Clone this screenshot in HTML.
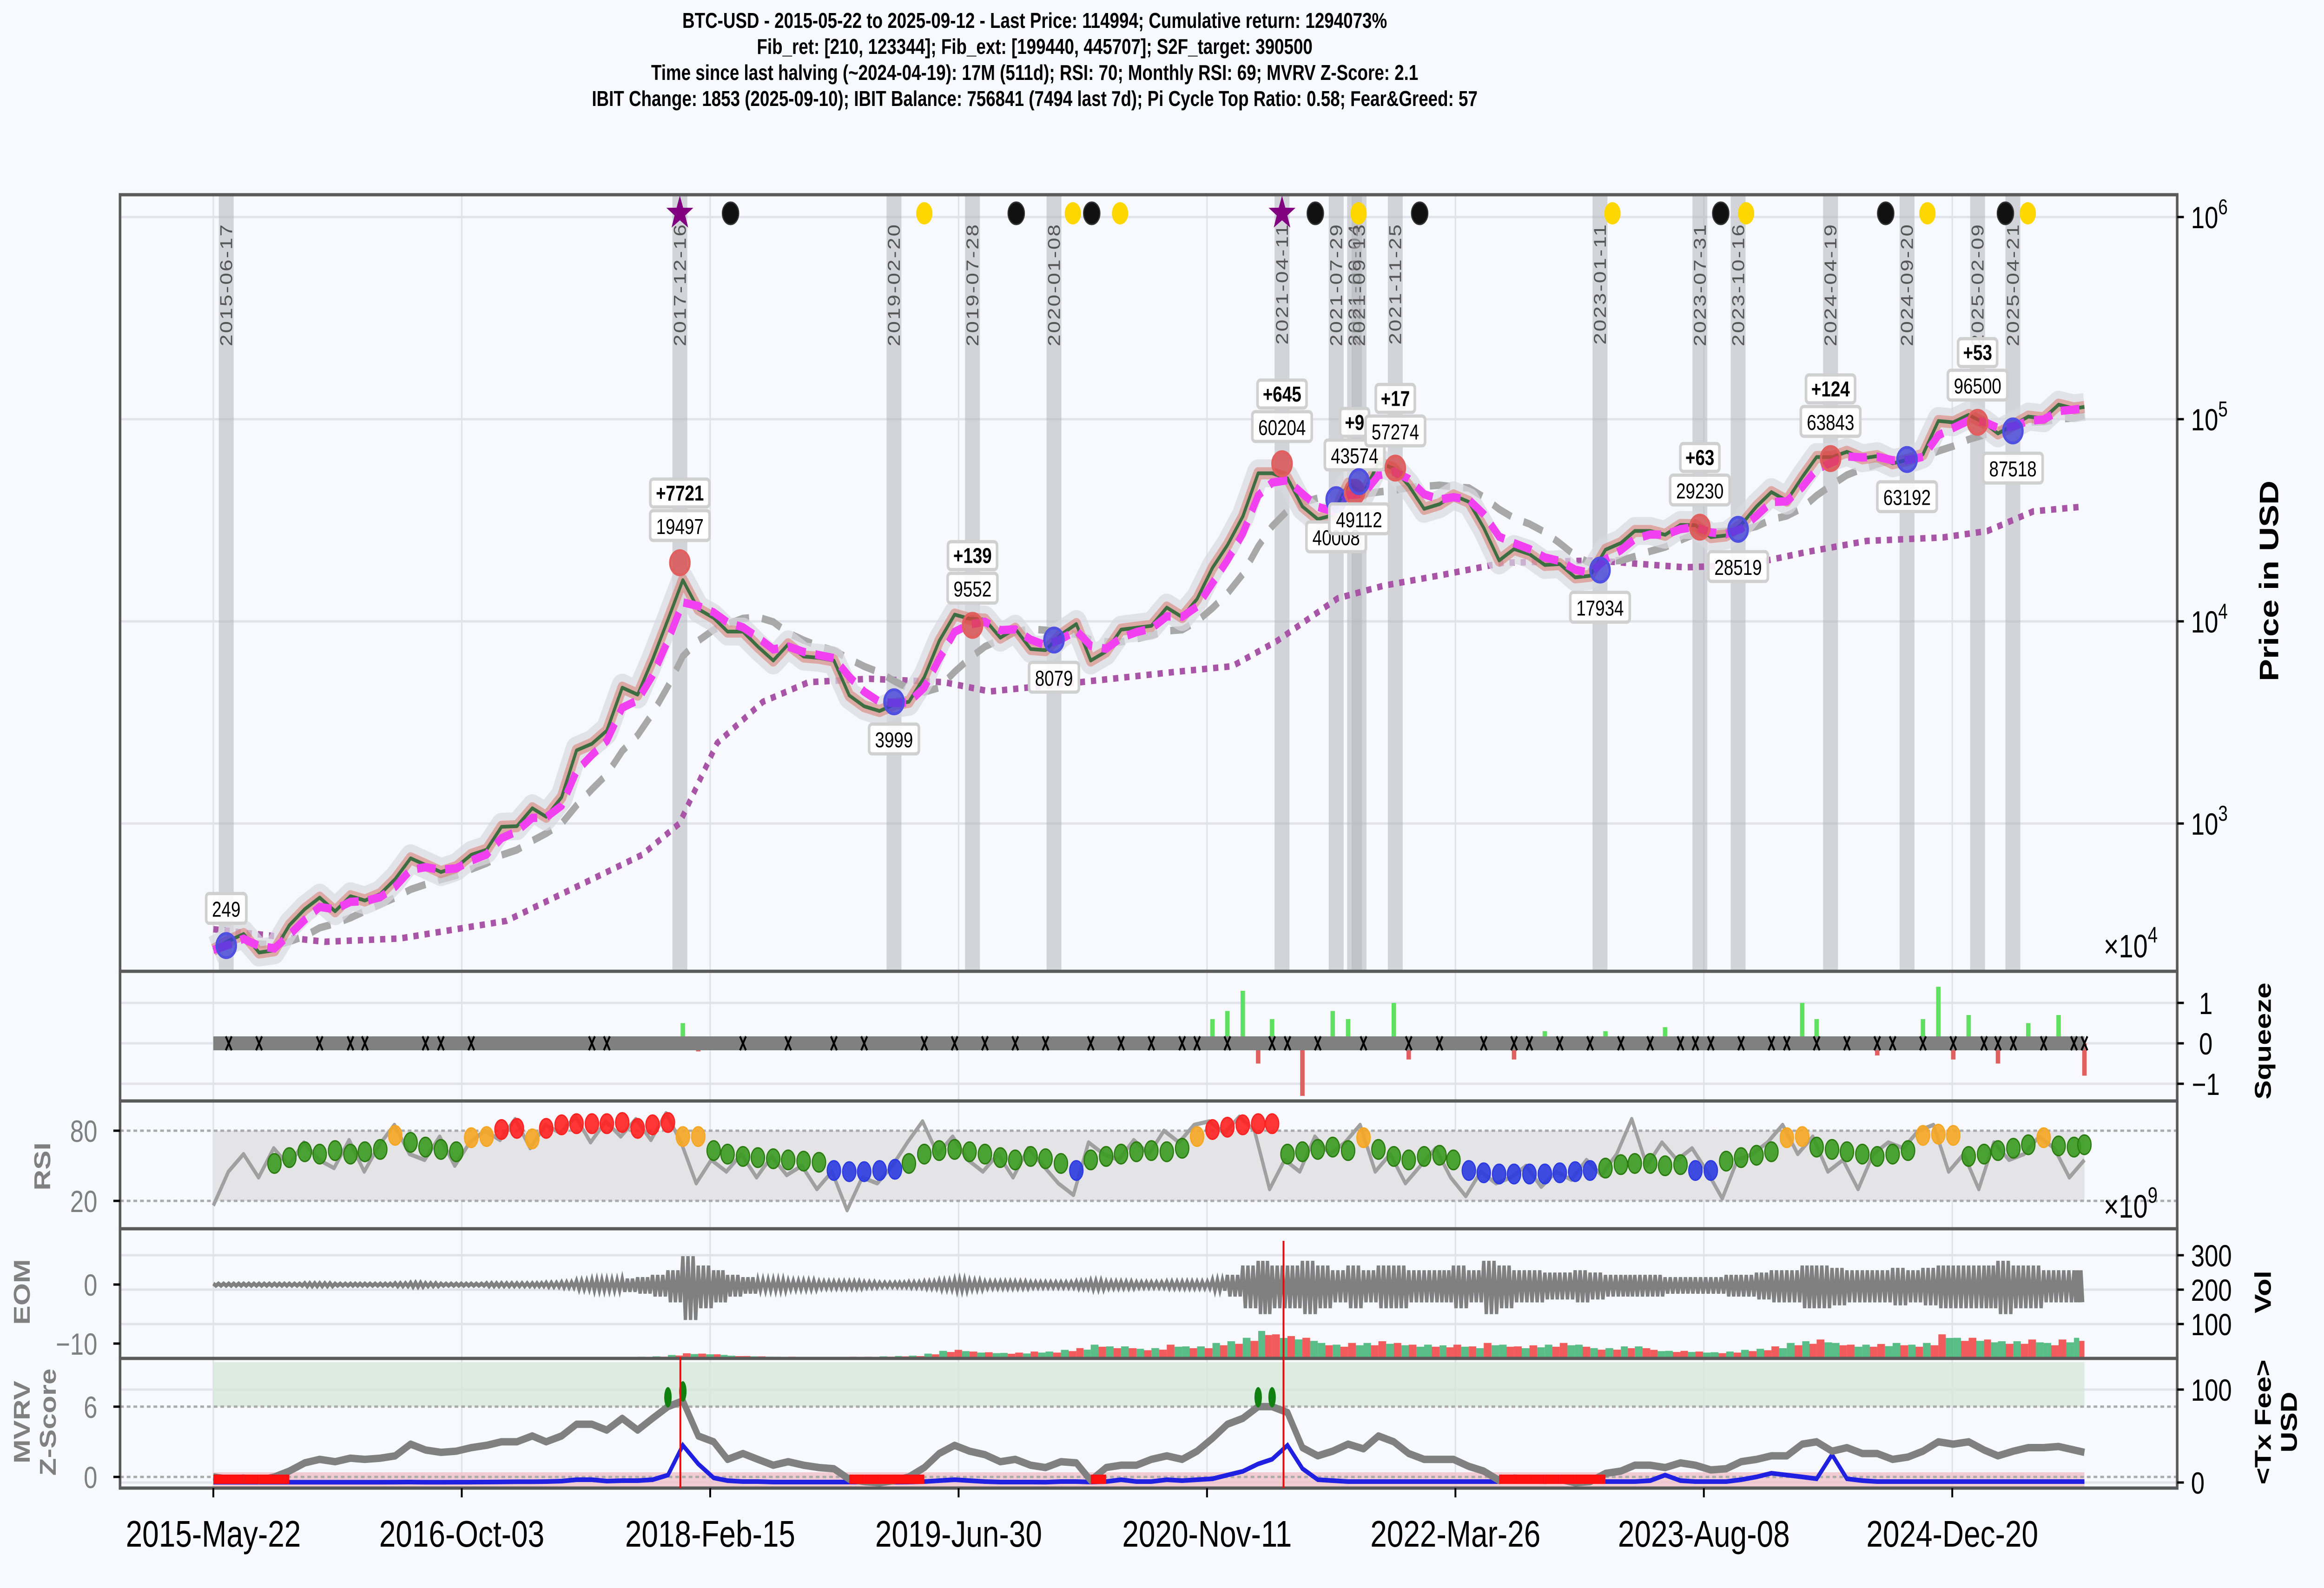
<!DOCTYPE html>
<html><head><meta charset="utf-8"><style>
html,body{margin:0;padding:0;background:#f8f9fe;overflow:hidden;width:100%;height:100%;}
svg{display:block;width:100vw;height:100vh;font-family:"Liberation Sans","DejaVu Sans",sans-serif;}
</style></head><body>
<svg id="chart" xmlns="http://www.w3.org/2000/svg" viewBox="0 0 6253 3417" preserveAspectRatio="none">
<rect x="0" y="0" width="6253" height="3417" fill="#f8f9fe"/>
<g font-weight="bold" font-size="46" text-anchor="middle" fill="#000">
<text x="2784" y="60">BTC-USD - 2015-05-22 to 2025-09-12 - Last Price: 114994; Cumulative return: 1294073%</text>
<text x="2784" y="116">Fib_ret: [210, 123344]; Fib_ext: [199440, 445707]; S2F_target: 390500</text>
<text x="2784" y="172">Time since last halving (~2024-04-19): 17M (511d); RSI: 70; Monthly RSI: 69; MVRV Z-Score: 2.1</text>
<text x="2784" y="228">IBIT Change: 1853 (2025-09-10); IBIT Balance: 756841 (7494 last 7d); Pi Cycle Top Ratio: 0.58; Fear&amp;Greed: 57</text>
</g>
<defs>
<clipPath id="cMain"><rect x="323" y="419" width="5535" height="1671"/></clipPath>
<clipPath id="cSq"><rect x="323" y="2090" width="5535" height="279"/></clipPath>
<clipPath id="cRsi"><rect x="323" y="2369" width="5535" height="275"/></clipPath>
<clipPath id="cEom"><rect x="323" y="2644" width="5535" height="279"/></clipPath>
<clipPath id="cMv"><rect x="323" y="2923" width="5535" height="279"/></clipPath>
</defs>
<g id="grid"></g>
<g id="main" clip-path="url(#cMain)"></g>
<g id="sq" clip-path="url(#cSq)"></g>
<g id="rsi" clip-path="url(#cRsi)"></g>
<g id="eom" clip-path="url(#cEom)"></g>
<g id="mv" clip-path="url(#cMv)"></g>
<g id="frames" fill="none" stroke="#5a5a5a" stroke-width="7">
<rect x="323" y="419" width="5535" height="1671"/>
<rect x="323" y="2090" width="5535" height="279"/>
<rect x="323" y="2369" width="5535" height="275"/>
<rect x="323" y="2644" width="5535" height="279"/>
<rect x="323" y="2923" width="5535" height="279"/>
</g>
<g id="axes"></g>
<g>
<text x="6130" y="1250" font-size="72" font-weight="bold" transform="rotate(-90 6130 1250)" text-anchor="middle">Price in USD</text>
<text x="5660" y="2060" font-size="70">×10<tspan font-size="48" dy="-32">4</tspan></text>
<text x="6110" y="2240" font-size="62" font-weight="bold" transform="rotate(-90 6110 2240)" text-anchor="middle">Squeeze</text>
<text x="135" y="2510" font-size="62" font-weight="bold" fill="#808080" transform="rotate(-90 135 2510)" text-anchor="middle">RSI</text>
<text x="5660" y="2620" font-size="70">×10<tspan font-size="48" dy="-32">9</tspan></text>
<text x="80" y="2780" font-size="62" font-weight="bold" fill="#808080" transform="rotate(-90 80 2780)" text-anchor="middle">EOM</text>
<text x="6110" y="2780" font-size="62" font-weight="bold" transform="rotate(-90 6110 2780)" text-anchor="middle">Vol</text>
<text x="80" y="3060" font-size="62" font-weight="bold" fill="#808080" transform="rotate(-90 80 3060)" text-anchor="middle">MVRV</text>
<text x="150" y="3060" font-size="62" font-weight="bold" fill="#808080" transform="rotate(-90 150 3060)" text-anchor="middle">Z-Score</text>
<text x="6110" y="3060" font-size="62" font-weight="bold" transform="rotate(-90 6110 3060)" text-anchor="middle">&lt;Tx Fee&gt;</text>
<text x="6180" y="3060" font-size="62" font-weight="bold" transform="rotate(-90 6180 3060)" text-anchor="middle">USD</text>
</g>
<script>
// ---------- DATA ----------
const priceMonthly = [237,263,284,230,236,314,377,430,
368,437,416,448,531,673,624,575,609,700,742,963,
970,1190,1080,1350,2300,2480,2880,4700,4340,6470,10200,16000,
11500,10400,8900,8900,7500,6400,7700,6700,6600,6400,4300,3800,
3600,3900,4000,5300,8000,10800,10300,10200,8300,9200,7300,7200,
8600,9700,6400,7100,9100,9300,9500,11700,10500,12900,18400,23800,
33000,54000,54000,51000,37000,32000,33500,48000,43000,61000,57000,47000,
36000,38000,42000,39000,29000,20000,22800,21500,19000,19200,16500,16800,
22600,24400,28000,28000,26800,30000,29900,26100,26600,30000,37000,43600,
39500,51700,65000,64900,69000,64000,65700,60500,63000,67000,98000,96500,
105000,96000,85000,93500,103000,101000,118000,113000,114994];
const lowerBandDates = ['2015-05-22','2016-01-01','2016-06-01','2017-01-01','2017-06-01','2017-10-01','2017-12-15','2018-03-01','2018-06-01','2018-09-01','2019-01-01','2019-06-01','2019-09-01','2020-03-01','2020-09-01','2021-01-01','2021-04-01','2021-08-01','2021-11-01','2022-03-01','2022-07-01','2023-01-01','2023-07-01','2023-11-01','2024-03-01','2024-07-01','2024-12-01','2025-03-01','2025-06-01','2025-09-12'];
const lowerBandValues = [300,260,270,330,500,700,1000,2500,4000,5000,5200,5000,4500,5000,5600,6000,8000,13000,15000,17000,19500,20000,18500,19000,22000,25000,26000,28000,35000,37000];
const bandDates = ['2015-06-17','2017-12-16','2019-02-20','2019-07-28','2020-01-08','2021-04-11','2021-07-29','2021-09-04','2021-09-13','2021-11-25','2023-01-11','2023-07-31','2023-10-16','2024-04-19','2024-09-20','2025-02-09','2025-04-21'];
const bandLabels = ['2015-06-17','2017-12-16','2019-02-20','2019-07-28','2020-01-08','2021-04-11','2021-07-29','2021-09-04','2021-09-13','2021-11-25','2023-01-11','2023-07-31','2023-10-16','2024-04-19','2024-09-20','2025-02-09','2025-04-21'];
const starDates = ['2017-12-16','2021-04-11'];
const blackDotDates = ['2018-03-28','2019-10-24','2020-03-24','2021-06-17','2022-01-13','2023-09-11','2024-08-08','2025-04-06'];
const yellowDotDates = ['2019-04-22','2020-02-15','2020-05-20','2021-09-12','2023-02-05','2023-11-01','2024-10-31','2025-05-21'];
const pivotDates = ['2015-06-17','2017-12-16','2019-02-20','2019-07-28','2020-01-08','2021-04-11','2021-07-29','2021-09-04','2021-09-13','2021-11-25','2023-01-11','2023-07-31','2023-10-16','2024-04-19','2024-09-20','2025-02-09','2025-04-21'];
const pivotValues = [249,19497,3999,9552,8079,60204,40008,43574,49112,57274,17934,29230,28519,63843,63192,96500,87518];
const pivotLabels = ['249','19497','3999','9552','8079','60204','40008','43574','49112','57274','17934','29230','28519','63843','63192','96500','87518'];
const pivotKinds = ['low','high','low','high','low','high','low','high','low','high','low','high','low','high','low','high','low'];
const pivotGains = ['','+7721','','+139','','+645','','+9','','+17','','+63','','+124','','+53',''];
const squeezeIdx = [31,32,66,67,68,69,70,72,74,75,78,79,86,88,92,96,105,106,110,113,114,115,116,118,120,122,124];
const squeezeVal = [0.5,-0.2,0.6,0.8,1.3,-0.5,0.6,-1.3,0.8,0.6,1.0,-0.4,-0.4,0.3,0.3,0.4,1.0,0.6,-0.3,0.6,1.4,-0.4,0.7,-0.5,0.5,0.7,-0.8];
const squeezeMarkIdx = [1,3,7,9,10,14,15,17,25,26,35,38,41,43,47,49,51,53,55,58,60,62,64,65,67,70,71,73,76,79,81,84,86,87,89,91,93,95,97,98,99,101,103,104,106,108,110,111,113,115,117,118,119,121,123,124];
const rsiMonthly = [null,null,null,null,52,57,62,60,
63,60,62,64,76,70,66,64,62,74,75,81,
82,73,82,85,86,86,86,87,82,85,87,75,
75,63,60,58,57,56,55,54,53,46,45,45,
46,47,52,60,63,64,62,60,57,55,58,56,
52,46,55,58,60,62,63,62,65,75,81,83,
85,86,86,60,62,64,66,63,74,64,58,55,
58,59,55,46,44,43,43,43,43,44,45,46,
48,51,52,52,50,51,46,46,54,57,59,62,
74,75,66,64,62,60,58,60,63,76,77,76,
58,60,63,65,68,74,67,66,68];
const rsiLine = [16,45,60,40,65,50,70,55,48,72,45,68,85,60,55,75,50,70,80,72,90,65,85,78,92,70,88,75,90,72,95,70,
35,55,45,60,40,58,42,50,30,45,12,40,35,50,70,88,60,75,55,45,60,40,65,50,35,25,70,60,55,72,60,80,
70,85,88,78,92,80,30,55,45,75,60,70,85,45,60,35,50,65,40,24,45,35,40,50,32,45,38,55,42,60,90,50,
70,55,65,45,22,55,60,70,85,60,75,45,55,30,60,70,65,80,85,45,60,30,70,55,60,75,65,40,55];
const volumeMonthly = [1,1,1,1,1,1,1,1, 1,1,1,1,1,1,1,1,1,1,1,1, 1,1,1,2,3,3,3,4,5,6,10,15, 14,12,8,7,6,5,5,4,4,4,5,5, 6,7,8,14,22,25,20,18,16,17,20,20,
25,30,40,35,35,28,30,40,35,35,45,50, 60,80,70,65,60,45,40,45,45,50,45,40, 40,38,40,35,45,40,35,38,40,45,40,30, 30,35,35,25,22,22,20,18,20,25,28,35,
45,50,55,45,40,40,42,45,40,45,70,60, 60,55,50,50,55,45,55,60,55];
const eomAmp = [0.2,0.2,0.2,0.2,0.2,0.2,0.3,0.3, 0.2,0.2,0.2,0.2,0.3,0.4,0.3,0.2,0.2,0.2,0.3,0.3, 0.3,0.3,0.4,0.5,0.8,1,1,1.2,1.5,2,3,6, 4,3,2,1.5,1,1,0.8,0.8,0.6,0.6,0.6,0.5,
0.4,0.4,0.5,0.6,0.8,1,0.8,0.6,0.6,0.6,0.5,0.5, 0.5,0.6,0.8,0.6,0.6,0.5,0.5,0.6,0.6,0.6,1,2, 4,5,4,4,5,4,3,4,3,4,4,3, 3,3,4,3,5,4,3,3,2.5,2.5,3,2.5,
2,2,2,2,1.5,1.5,1.5,1.5,2,2,2.5,3, 3,4,4,3.5,3,3,3,3.5,3,3.5,4,4, 4,4,5,4,4,3,3,3,3];
const mvrvMonthly = [0,-0.2,-0.1,-0.3,0,0.5,1.2,1.5,
1.3,1.6,1.5,1.6,1.8,2.8,2.3,2.1,2.2,2.5,2.7,3.0,
3.0,3.5,3.0,3.5,4.5,4.5,4.0,5.0,4.0,5.0,6.0,6.5,
3.5,3.0,1.5,2.0,1.5,1.0,1.3,1.0,0.8,0.7,-0.2,-0.4,
-0.5,-0.3,0,0.8,2.0,2.7,2.2,1.9,1.3,1.5,1.0,0.8,
1.3,1.2,-0.3,0.8,1.0,1.0,1.5,1.8,1.5,2.2,3.3,4.5,
5.0,6.0,6.0,5.5,2.5,1.8,2.2,2.8,2.4,3.5,3.0,2.0,
1.5,1.5,1.5,0.9,0.5,-0.3,-0.1,-0.2,-0.3,-0.2,-0.5,-0.4,
0.3,0.5,1.0,1.0,0.8,1.2,1.0,0.6,0.7,1.3,1.5,1.8,
1.8,2.8,3.0,2.2,2.5,2.0,2.0,1.5,1.7,2.2,3.0,2.8,
3.0,2.3,1.8,2.2,2.5,2.5,2.6,2.3,2.1];
const feeMonthly = [0.3,0.3,0.3,0.3,0.3,0.3,0.3,0.3, 0.3,0.3,0.3,0.3,0.4,0.5,0.3,0.3,0.4,0.4,0.5,0.6, 0.8,0.8,1,1.5,3,3,1.5,2,2,3,8,40, 20,5,2,1,1,0.5,0.5,0.5,0.5,0.5,0.5,0.4,
0.4,0.4,0.5,1,2,3,2,1,0.5,0.5,0.5,0.4, 1,1,0.5,1,3,1,1,3,2,3,4,8, 12,20,25,40,15,3,2,1,1,1,1,1, 1,1,1,1,1,1,1,1,1,1,1,1,
1,1,1,2,8,2,1,1,1,3,6,10, 8,6,4,30,4,2,1,1,1,1,1,1, 1,1,1,1,1,1,1,1,1];
const xTickLabels = ['2015-May-22','2016-Oct-03','2018-Feb-15','2019-Jun-30','2020-Nov-11','2022-Mar-26','2023-Aug-08','2024-Dec-20'];
const xTickDates = ['2015-05-22','2016-10-03','2018-02-15','2019-06-30','2020-11-11','2022-03-26','2023-08-08','2024-12-20'];
const priceTicks = [3,4,5,6];
const squeezeTicks = [1,0,-1];
const squeezeTickLabels = ['1','0','\u22121'];
const rsiTicks = [80,20];
const eomTicks = [0,-10];
const volTicks = [100,200,300];
const mvrvTicks = [6,0];
const feeTicks = [0,100];

// ---------- SCALES ----------
const NS='http://www.w3.org/2000/svg';
const D0=Date.UTC(2015,4,22);
function X(d){const t=(typeof d==='string')?Date.parse(d+'T00:00:00Z'):d;return 574+(t-D0)/864e5*1.3368;}
function monthT(i){return i>=124?Date.UTC(2025,8,12):Date.UTC(2015,4+i,22);}
function XM(i){return X(monthT(i));}
function YP(v){return 467+(6-Math.log10(v))*435;}
function YS(v){return 2245-v*87;}
function YR(v){return 2433+(80-v)*2.517;}
function YE(v){return 2764-v*12.7;}
function YV(v){return 2923-v*0.74;}
function YM(v){return 3178-v*25.2;}
function YF(v){return 3190-v*2.0;}
function el(parent,tag,attrs,txt){const e=document.createElementNS(NS,tag);for(const k in attrs)e.setAttribute(k,attrs[k]);if(txt!==undefined)e.textContent=txt;parent.appendChild(e);return e;}
const G=id=>document.getElementById(id);
const xL=574, xR=X('2025-09-12');

// ---------- GRID ----------
const grid=G('grid');
xTickDates.forEach(d=>{const l=el(grid,'line',{x1:X(d),x2:X(d),y1:419,y2:3202,stroke:'#e2e2ea','stroke-width':4});

});
priceTicks.forEach(p=>{const l=el(grid,'line',{x1:323,x2:5858,y1:YP(Math.pow(10,p)),y2:YP(Math.pow(10,p)),stroke:'#e2e2ea','stroke-width':5});

});
[[YS(1)],[YS(0)],[YS(-1)],[YV(100)],[YV(200)],[YV(300)],[YF(100)],[YF(0)]].forEach(a=>{const l=el(grid,'line',{x1:323,x2:5858,y1:a[0],y2:a[0],stroke:'#e2e2ea','stroke-width':5});

});

// ---------- MAIN PANEL ----------
const main=G('main');
bandDates.forEach((d,i)=>{const r=el(main,'rect',{x:X(d)-20,y:419,width:40,height:1671,fill:'#b4b4bc','fill-opacity':0.55});


const t=el(main,'text',{x:X(d)+16,y:480,'font-size':46,fill:'#555','text-anchor':'end','letter-spacing':'3',transform:`rotate(-90 ${X(d)+16} 480)`},bandLabels[i]);

});
let pts=lowerBandDates.map((d,i)=>X(d)+','+YP(lowerBandValues[i])).join(' ');
let pl=el(main,'polyline',{points:pts,fill:'none',stroke:'#a855a8','stroke-width':14,'stroke-dasharray':'14 16'});


const ma=priceMonthly.map((v,i)=>{let s=0,n=0;for(let j=Math.max(0,i-6);j<=i;j++){s+=priceMonthly[j];n++;}return s/n;});
pts=ma.map((v,i)=>XM(i)+','+YP(v)).join(' ');
pl=el(main,'polyline',{points:pts,fill:'none',stroke:'#a8a8a8','stroke-width':16,'stroke-dasharray':'55 35'});


pts=priceMonthly.map((v,i)=>XM(i)+','+YP(v)).join(' ');
pl=el(main,'polyline',{points:pts,fill:'none',stroke:'#d8d8e0','stroke-width':60,'stroke-linejoin':'round','stroke-opacity':0.7});


pl=el(main,'polyline',{points:pts,fill:'none',stroke:'#d77060','stroke-width':26,'stroke-linejoin':'round','stroke-opacity':0.5});


pl=el(main,'polyline',{points:pts,fill:'none',stroke:'#3c6e42','stroke-width':8,'stroke-linejoin':'round'});


const ema=[];priceMonthly.forEach((v,i)=>{ema.push(i===0?v:ema[i-1]*0.45+v*0.55);});
pts=ema.map((v,i)=>XM(i)+','+YP(v)).join(' ');
pl=el(main,'polyline',{points:pts,fill:'none',stroke:'#f040f0','stroke-width':18,'stroke-dasharray':'50 26'});


pivotDates.forEach((d,i)=>{const x=X(d),y=YP(pivotValues[i]);const hi=pivotKinds[i]==='high';
const c=el(main,'circle',{cx:x,cy:y,r:26,fill:hi?'#d94040':'#3a3ad8','fill-opacity':0.75,stroke:hi?'#e06060':'#5050e0','stroke-width':6});


const above=hi||i===0;const ly=above?y-78:y+82;
const w=pivotLabels[i].length*26+30;
const b=el(main,'rect',{x:x-w/2,y:ly-34,width:w,height:64,rx:8,fill:'#fff','fill-opacity':0.9,stroke:'#d0d0d0','stroke-width':7});


const t=el(main,'text',{x:x,y:ly+16,'font-size':46,'text-anchor':'middle',fill:'#000'},pivotLabels[i]);


if(pivotGains[i]){const gw=pivotGains[i].length*27+24;
const gb=el(main,'rect',{x:x-gw/2,y:ly-102,width:gw,height:60,rx:8,fill:'#fff','fill-opacity':0.9,stroke:'#d0d0d0','stroke-width':7});


const gt=el(main,'text',{x:x,y:ly-56,'font-size':46,'font-weight':'bold','text-anchor':'middle',fill:'#000'},pivotGains[i]);

}});
starDates.forEach(d=>{const x=X(d),y=459;let p=[];for(let k=0;k<10;k++){const r=k%2?15:38,a=-Math.PI/2+k*Math.PI/5;p.push((x+r*Math.cos(a))+','+(y+r*Math.sin(a)));}
const s=el(main,'polygon',{points:p.join(' '),fill:'#800080'});

});
blackDotDates.forEach(d=>{const c=el(main,'ellipse',{cx:X(d),cy:459,rx:22,ry:24,fill:'#111',stroke:'#333','stroke-width':3});

});
yellowDotDates.forEach(d=>{const c=el(main,'ellipse',{cx:X(d),cy:459,rx:22,ry:24,fill:'#ffd700'});

});

// ---------- SQUEEZE ----------
const sq=G('sq');
squeezeIdx.forEach((m,i)=>{const v=squeezeVal[i],x=XM(m);
const r=el(sq,'rect',{x:x-6,y:Math.min(YS(0),YS(v)),width:12,height:Math.abs(YS(v)-YS(0)),fill:v>0?'#60e060':'#e06060'});

});
let sl=el(sq,'line',{x1:xL,x2:xR,y1:YS(0),y2:YS(0),stroke:'#808080','stroke-width':30});


squeezeMarkIdx.forEach(m=>{const x=XM(m),y=YS(0);
const p=el(sq,'path',{d:`M${x-8} ${y-15}L${x+8} ${y+15}M${x+8} ${y-15}L${x-8} ${y+15}`,stroke:'#000','stroke-width':5});

});

// ---------- RSI ----------
const rsi=G('rsi');
let rr=el(rsi,'rect',{x:xL,y:YR(80),width:xR-xL,height:YR(20)-YR(80),fill:'#e4e4e6'});


[80,20].forEach(v=>{const l=el(rsi,'line',{x1:323,x2:5858,y1:YR(v),y2:YR(v),stroke:'#aaa','stroke-width':5,'stroke-dasharray':'10 8'});

});
pts=rsiLine.map((v,i)=>X(monthT(0)+i*(monthT(124)-monthT(0))/(rsiLine.length-1))+','+YR(v)).join(' ');
pl=el(rsi,'polyline',{points:pts,fill:'none',stroke:'#a0a0a0','stroke-width':9,'stroke-linejoin':'round'});


rsiMonthly.forEach((v,i)=>{if(v===null)return;const col=v>=80?'#ff2020':v>=72?'#f5a623':v>=48?'#3a9a20':'#2a3ae0';
const c=el(rsi,'ellipse',{cx:XM(i),cy:YR(v),rx:18,ry:21,fill:col,stroke:col==='#3a9a20'?'#2a7a10':col,'stroke-width':3,'fill-opacity':0.9});

});

// ---------- EOM / VOLUME ----------
const eom=G('eom');
volumeMonthly.forEach((v,i)=>{if(i>=124)return;const x0=XM(i),x1=XM(i+1),w=(x1-x0)/2;const up=priceMonthly[i+1]>=priceMonthly[i];
const a=el(eom,'rect',{x:x0,y:YV(v),width:w,height:2923-YV(v),fill:up?'#3cb371':'#f04040','fill-opacity':0.85});


const b=el(eom,'rect',{x:x0+w,y:YV(v*0.85),width:w,height:2923-YV(v*0.85),fill:up?'#f04040':'#3cb371','fill-opacity':0.85});

});
let ep=[];eomAmp.forEach((a,i)=>{if(i>=124)return;const x0=XM(i),dx=(XM(i+1)-x0)/6;for(let k=0;k<6;k++){ep.push((x0+k*dx)+','+YE(k%2?-a:a*0.8));}});
pl=el(eom,'polyline',{points:ep.join(' '),fill:'none',stroke:'#808080','stroke-width':9});



// ---------- MVRV ----------
const mv=G('mv');
let gz=el(mv,'rect',{x:xL,y:2931,width:xR-xL,height:YM(6)-2931,fill:'#d4e8d8','fill-opacity':0.8});


let pz=el(mv,'rect',{x:xL,y:YM(0.4),width:xR-xL,height:YM(-1)-YM(0.4),fill:'#f0c0c8','fill-opacity':0.8});


[6,0].forEach(v=>{const l=el(mv,'line',{x1:323,x2:5858,y1:YM(v),y2:YM(v),stroke:'#aaa','stroke-width':5,'stroke-dasharray':'10 8'});

});
pts=feeMonthly.map((v,i)=>XM(i)+','+YF(v)).join(' ');
pl=el(mv,'polyline',{points:pts,fill:'none',stroke:'#2020e0','stroke-width':10});


pts=mvrvMonthly.map((v,i)=>XM(i)+','+YM(v)).join(' ');
pl=el(mv,'polyline',{points:pts,fill:'none',stroke:'#808080','stroke-width':16,'stroke-linejoin':'round'});


mvrvMonthly.forEach((v,i)=>{if(i>=124)return;if(v<0.2){const r=el(mv,'rect',{x:XM(i),y:YM(0.2),width:XM(i+1)-XM(i),height:YM(-0.6)-YM(0.2),fill:'#ff1010'});

}
if(v>=6){const c=el(mv,'ellipse',{cx:XM(i),cy:YM(v+0.8),rx:10,ry:22,fill:'#108010'});

}});
['2017-12-17','2021-04-14'].forEach((d,i)=>{const l=el(G('axes'),'line',{x1:X(d),x2:X(d),y1:i?2670:2920,y2:3202,stroke:'#e01010','stroke-width':5});

});

// ---------- AXES / TICKS ----------
const ax=G('axes');
function tick(x1,x2,y){const l=el(ax,'line',{x1:x1,x2:x2,y1:y,y2:y,stroke:'#000','stroke-width':5});

}
function lab(x,y,s,anchor,col,name){const t=el(ax,'text',{x:x,y:y,'font-size':66,'text-anchor':anchor,fill:col||'#000'},s);

return t;}
priceTicks.forEach(p=>{const y=YP(Math.pow(10,p));tick(5858,5876,y);
const t=lab(5895,y+24,'10','start','#000','price-tick-label');el(t,'tspan',{'font-size':46,dy:-30},String(p));});
squeezeTicks.forEach((v,i)=>{tick(5858,5876,YS(v));lab(5935,YS(v)+24,squeezeTickLabels[i],'middle','#000','squeeze-tick-label');});
rsiTicks.forEach(v=>{tick(305,323,YR(v));lab(262,YR(v)+24,String(v),'end','#808080','rsi-tick-label');});
eomTicks.forEach(v=>{tick(305,323,YE(v));lab(262,YE(v)+24,v<0?'\u2212'+(-v):String(v),'end','#808080','eom-tick-label');});
volTicks.forEach(v=>{tick(5858,5876,YV(v));lab(5895,YV(v)+24,String(v),'start','#000','volume-tick-label');});
mvrvTicks.forEach(v=>{tick(305,323,YM(v));lab(262,YM(v)+24,String(v),'end','#808080','mvrv-tick-label');});
feeTicks.forEach(v=>{tick(5858,5876,YF(v));lab(5895,YF(v)+24,String(v),'start','#000','fee-tick-label');});
xTickDates.forEach((d,i)=>{const x=X(d);const l=el(ax,'line',{x1:x,x2:x,y1:3202,y2:3222,stroke:'#000','stroke-width':5});


const t=el(ax,'text',{x:x,y:3328,'font-size':80,'text-anchor':'middle',fill:'#000'},xTickLabels[i]);

});
</script>
</svg>
</body></html>
